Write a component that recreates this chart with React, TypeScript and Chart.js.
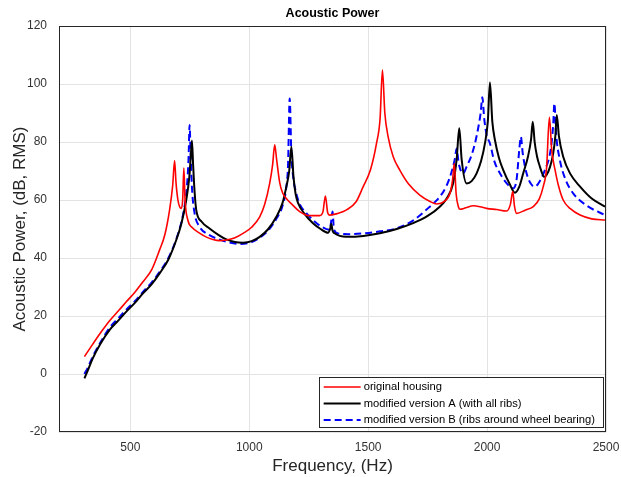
import React, { useEffect, useRef } from "react";
import { Chart, registerables } from "chart.js";

Chart.register(...registerables);

const FONT = "'Liberation Sans', Arial, Helvetica, sans-serif";

const chartTitle = "Acoustic Power";
const xAxisTitle = "Frequency, (Hz)";
const yAxisTitle = "Acoustic Power, (dB, RMS)";
const xTickValues = [500, 1000, 1500, 2000, 2500];
const yTickValues = [-20, 0, 20, 40, 60, 80, 100, 120];
const seriesLabels = [
  "original housing",
  "modified version A (with all ribs)",
  "modified version B (ribs around wheel bearing)",
];

const redFreq = [
  307, 342, 380, 412, 450, 483, 520, 553, 590, 623, 645, 665, 678, 686, 692, 700, 708, 714, 720, 725,
  730, 742, 760, 791, 820, 847, 875, 904, 940, 974, 1010, 1044, 1065, 1086, 1098, 1107, 1115, 1128,
  1140, 1156, 1180, 1212, 1254, 1296, 1310, 1320, 1330, 1338, 1370, 1409, 1450, 1479, 1510, 1535,
  1550, 1560, 1570, 1584, 1605, 1633, 1670, 1717, 1760, 1788, 1820, 1844, 1855, 1862, 1870, 1880,
  1886, 1910, 1942, 1970, 1998, 2040, 2082, 2098, 2108, 2115, 2124, 2160, 2194, 2220, 2236, 2250,
  2262, 2272, 2286, 2300, 2320, 2350, 2391, 2440, 2496,
];
const redDb = [
  6.0, 10.3, 14.8, 18.3, 21.8, 24.9, 28.3, 31.8, 36, 42.8, 48, 56.6, 65, 73.6, 66, 60, 57.5, 57.1, 60, 71,
  60, 53, 50.5, 48.6, 47.2, 46.4, 46, 46.2, 47, 48.5, 50.6, 54.2, 58.5, 65.8, 72, 79, 74, 66,
  62.5, 60.5, 58.5, 56, 54.6, 54.6, 56, 61.4, 55.5, 54.8, 55.3, 56.6, 59.5, 64.6, 70.5, 79.5,
  88, 104.8, 90, 81.8, 75, 70.3, 65.5, 61.7, 59.5, 58.6, 59.5, 62.3, 67, 72.6, 62, 57.5,
  56.8, 57.3, 58, 57.7, 57.1, 56.7, 56.2, 58.5, 62.9, 58, 55.4, 56.5, 57.7, 60.5, 64.6, 71,
  88.5, 77, 70.3, 65, 60, 57, 54.8, 53.5, 53.1,
];

const blackFreq = [
  307, 320, 342, 375, 413, 450, 483, 520, 553, 590, 623, 660, 693, 715, 735, 748, 754, 759, 764, 770,
  777, 800, 833, 870, 904, 940, 974, 1010, 1044, 1080, 1114, 1140, 1156, 1168, 1177, 1186, 1195,
  1205, 1230, 1268, 1300, 1331, 1340, 1345, 1350, 1359, 1409, 1480, 1549, 1620, 1689, 1750, 1801,
  1830, 1857, 1872, 1883, 1893, 1914, 1935, 1956, 1975, 1991, 2003, 2012, 2022, 2033, 2050, 2068,
  2095, 2117, 2135, 2152, 2172, 2185, 2192, 2200, 2210, 2222, 2240, 2250, 2265, 2278, 2287, 2293,
  2302, 2320, 2350, 2391, 2440, 2496,
];
const blackDb = [
  -1.5, 1, 5.4, 10.5, 15.2, 18.5, 21.5, 24.6, 27.8, 31, 34.7, 39.5, 46.2, 52, 60, 68, 75, 80.5, 72, 63,
  56.6, 52.5, 50.2, 48, 46.4, 45.5, 45.3, 45.8, 47.3, 50, 54.2, 59, 64.6, 70, 78.4, 68, 62,
  59, 55.5, 52, 50, 48.7, 50, 51.7, 49.5, 48.5, 47.3, 47.6, 48.5, 50, 52, 54.5, 57.7,
  60.5, 65.7, 74, 84.7, 74, 65.7, 66.5, 69.2, 73.5, 79.5, 87, 100.5, 87, 80.7, 74.5, 70.3,
  65.5, 62.5, 64.5, 69.2, 75, 81, 87, 80, 75, 71.5, 68, 68.6, 71.5, 76.1, 82, 89.3,
  82, 74.9, 69, 64.6, 60.5, 57.7,
];

const blueFreq = [
  307, 320, 342, 375, 413, 450, 483, 520, 553, 590, 623, 660, 693, 715, 730, 740, 745, 749, 754, 760,
  770, 791, 830, 870, 904, 960, 1010, 1044, 1080, 1114, 1140, 1155, 1163, 1170, 1177, 1186, 1191,
  1210, 1240, 1268, 1300, 1338, 1345, 1350, 1356, 1373, 1420, 1479, 1550, 1619, 1690, 1759, 1800,
  1830, 1850, 1864, 1872, 1880, 1890, 1900, 1914, 1935, 1949, 1963, 1973, 1980, 1988, 1998, 2012,
  2030, 2054, 2080, 2110, 2124, 2135, 2142, 2150, 2166, 2185, 2201, 2225, 2243, 2262, 2271, 2278,
  2283, 2290, 2306, 2330, 2362, 2420, 2496,
];
const blueDb = [
  0, 2, 6, 11, 16, 19.3, 22.2, 25.2, 28.3, 31.6, 35.2, 40, 46.5, 52.5, 59, 67, 75, 85.9, 74, 63,
  55.5, 50.8, 48, 46.5, 45.6, 44.8, 45.5, 47, 49.5, 53.5, 58, 64, 72, 95, 76, 67, 64.6,
  59, 55.5, 53.1, 51, 49.7, 53, 56, 50, 48.5, 48.2, 48.5, 49.2, 50.2, 53, 57.7, 61,
  65, 69.5, 74, 77.8, 73, 70, 69.2, 71.5, 75.5, 79.5, 85, 90, 95.4, 88, 82.5, 79.5,
  73.5, 69.2, 66, 64, 67, 77, 81.8, 76, 69.2, 65.5, 64.6, 67, 70.3, 75, 79.5, 86,
  93.3, 83, 73.8, 67, 62.3, 58, 54.8,
];

const toPoints = (xs: number[], ys: number[]) => xs.map((x, i) => ({ x, y: ys[i] }));

const framePlugin = {
  id: "frame",
  afterDatasetsDraw(chart: any) {
    const { ctx, chartArea: a } = chart;
    ctx.save();
    ctx.strokeStyle = "#262626";
    ctx.lineWidth = 1;
    ctx.strokeRect(a.left + 0.5, a.top + 0.5, a.right - a.left - 1, a.bottom - a.top - 1);
    ctx.restore();
  },
  afterDraw(chart: any) {
    const { ctx, chartArea: a } = chart;
    ctx.save();
    ctx.fillStyle = "#000";
    ctx.font = `bold 12.5px ${FONT}`;
    ctx.textAlign = "center";
    ctx.textBaseline = "middle";
    ctx.fillText(chartTitle, (a.left + a.right) / 2, a.top - 12);

    ctx.font = `11.2px ${FONT}`;
    const maxW = Math.max(...seriesLabels.map((l) => ctx.measureText(l).width));
    const sample = 37;
    const w = 5 + sample + 3 + maxW + 8;
    const h = 50;
    const right = a.right - 3;
    const bottom = a.bottom - 5;
    const left = right - w;
    const top = bottom - h;
    ctx.fillStyle = "#fff";
    ctx.fillRect(left, top, w, h);
    ctx.strokeStyle = "#262626";
    ctx.lineWidth = 1;
    ctx.strokeRect(Math.round(left) + 0.5, Math.round(top) + 0.5, Math.round(w), Math.round(h));
    chart.data.datasets.forEach((ds: any, i: number) => {
      const y = top + 10 + i * 16.5;
      ctx.save();
      ctx.strokeStyle = ds.borderColor;
      ctx.lineWidth = ds.borderWidth;
      ctx.setLineDash(ds.borderDash || []);
      ctx.beginPath();
      ctx.moveTo(left + 5, y);
      ctx.lineTo(left + 5 + sample, y);
      ctx.stroke();
      ctx.restore();
      ctx.fillStyle = "#000";
      ctx.textAlign = "left";
      ctx.textBaseline = "middle";
      ctx.fillText(seriesLabels[i], left + 5 + sample + 3, y);
    });
    ctx.restore();
  },
};

export default function App() {
  const ref = useRef<HTMLCanvasElement>(null);
  useEffect(() => {
    document.body.style.margin = "0";
    const canvas = ref.current!;
    const common = {
      pointRadius: 0,
      cubicInterpolationMode: "monotone" as const,
      fill: false,
    };
    const chart = new Chart(canvas, {
      type: "line",
      data: {
        datasets: [
          {
            label: seriesLabels[0],
            data: toPoints(redFreq, redDb),
            borderColor: "#ff0000",
            borderWidth: 1.6,
            ...common,
          },
          {
            label: seriesLabels[1],
            data: toPoints(blackFreq, blackDb),
            borderColor: "#000000",
            borderWidth: 2,
            ...common,
          },
          {
            label: seriesLabels[2],
            data: toPoints(blueFreq, blueDb),
            borderColor: "#0000ff",
            borderWidth: 2,
            borderDash: [7, 4],
            ...common,
          },
        ],
      },
      options: {
        animation: false,
        responsive: false,
        devicePixelRatio: 1,
        layout: { padding: { top: 26, right: 15, left: 0, bottom: 0 } },
        plugins: {
          legend: { display: false },
          title: { display: false },
          tooltip: { enabled: false },
        },
        scales: {
          x: {
            type: "linear",
            min: 200,
            max: 2500,
            afterBuildTicks: (s: any) => {
              s.ticks = xTickValues.map((v) => ({ value: v }));
            },
            afterFit: (s: any) => {
              s.height = 45;
              s.paddingRight = 0;
              s.paddingLeft = 0;
            },
            grid: { color: "#e3e3e3", drawTicks: false },
            border: { display: false },
            ticks: {
              autoSkip: false,
              maxRotation: 0,
              padding: 8,
              color: "#333",
              font: { family: FONT, size: 12 },
              callback: (v: any) => String(v),
            },
            title: {
              display: true,
              text: xAxisTitle,
              color: "#262626",
              font: { family: FONT, size: 17 },
              padding: { top: 0, bottom: 0 },
            },
          },
          y: {
            type: "linear",
            min: -20,
            max: 120,
            afterBuildTicks: (s: any) => {
              s.ticks = yTickValues.map((v) => ({ value: v }));
            },
            afterFit: (s: any) => {
              s.width = 59;
              s.paddingTop = 0;
              s.paddingBottom = 0;
            },
            grid: { color: "#e3e3e3", drawTicks: false },
            border: { display: false },
            ticks: {
              autoSkip: false,
              padding: 12,
              color: "#333",
              font: { family: FONT, size: 12 },
              callback: (v: any) => String(v),
            },
            title: {
              display: true,
              text: yAxisTitle,
              color: "#262626",
              font: { family: FONT, size: 17 },
              padding: { top: 10, bottom: 0 },
            },
          },
        },
      },
      plugins: [framePlugin],
    });
    return () => chart.destroy();
  }, []);
  return (
    <div style={{ width: 621, height: 477 }}>
      <canvas ref={ref} width={621} height={477} style={{ display: "block" }} />
    </div>
  );
}
